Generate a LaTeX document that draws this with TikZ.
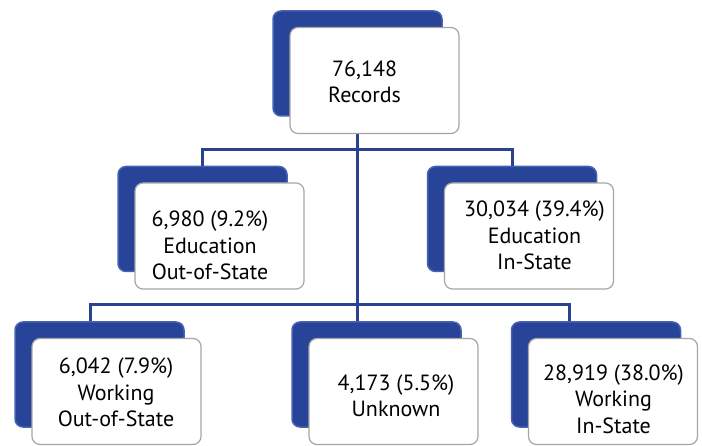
\documentclass[tikz,border=0pt]{standalone}
\usepackage{fontspec}
\setmainfont{PT Sans}
\usetikzlibrary{positioning}
\definecolor{linkblue}{RGB}{43,66,145}
\definecolor{backblue}{RGB}{40,68,152}
\definecolor{backedge}{RGB}{70,98,182}

\begin{document}
\begin{tikzpicture}[x=1pt,y=1pt,line width=3pt,draw=linkblue]
  \tikzstyle{back}=[draw=backedge,line width=1.5pt,rounded corners=8pt,fill=backblue,
                    minimum width=169pt,minimum height=105pt,inner sep=0pt]
  \tikzstyle{front}=[draw=black!35,line width=1.2pt,fill=white,rounded corners=8pt,
                     minimum width=169pt,minimum height=106pt,inner sep=0pt]
  \tikzstyle{caption}=[anchor=base,align=center,inner sep=0pt,text=black,
                       font=\fontsize{22}{26.5}\selectfont]

  \useasboundingbox (0,0) rectangle (702,445);

  % blue backs
  \node[back] (rootback)    at (357.5,381.5) {};
  \node[back] (eduoutback)  at (202.5,226)   {};
  \node[back] (eduinback)   at (512,226)     {};
  \node[back] (workoutback) at (99.5,70.5)   {};
  \node[back] (unknownback) at (376.5,70.5)  {};
  \node[back] (workinback)  at (596,70.5)    {};

  % connectors
  \draw (rootback.center) -- (rootback.center |- unknownback.north);
  \draw (eduoutback.north) -- ++(0,16) -| (eduinback.north);
  \draw ([xshift=-9.5pt]workoutback.north) -- ++(0,17)
        -| ([xshift=-27pt]workinback.north);

  % white fronts
  \node[front] (root)    at ([shift={(17,-17)}]rootback)    {};
  \node[front] (eduout)  at ([shift={(17,-17)}]eduoutback)  {};
  \node[front] (eduin)   at ([shift={(17,-17)}]eduinback)   {};
  \node[front] (workout) at ([shift={(17,-17)}]workoutback) {};
  \node[front] (unknown) at ([shift={(17,-17)}]unknownback) {};
  \node[front] (workin)  at ([shift={(17,-17)}]workinback)  {};

  % texts (anchored on the last line)
  \node[caption] (roottxt)    at (364.6,342) {76,148\\Records};
  \node[caption] (eduouttxt)  at (210,165)   {6,980 (9.2\%)\\Education\\Out-of-State};
  \node[caption] (eduintxt)   at (534.5,175) {30,034 (39.4\%)\\Education\\In-State};
  \node[caption] (workouttxt) at (116,18.3)  {6,042 (7.9\%)\\Working\\Out-of-State};
  \node[caption] (unknowntxt) at (396,28.3)  {4,173 (5.5\%)\\Unknown};
  \node[caption] (workintxt)  at (613.5,12)  {28,919 (38.0\%)\\Working\\In-State};
\end{tikzpicture}
\end{document}
